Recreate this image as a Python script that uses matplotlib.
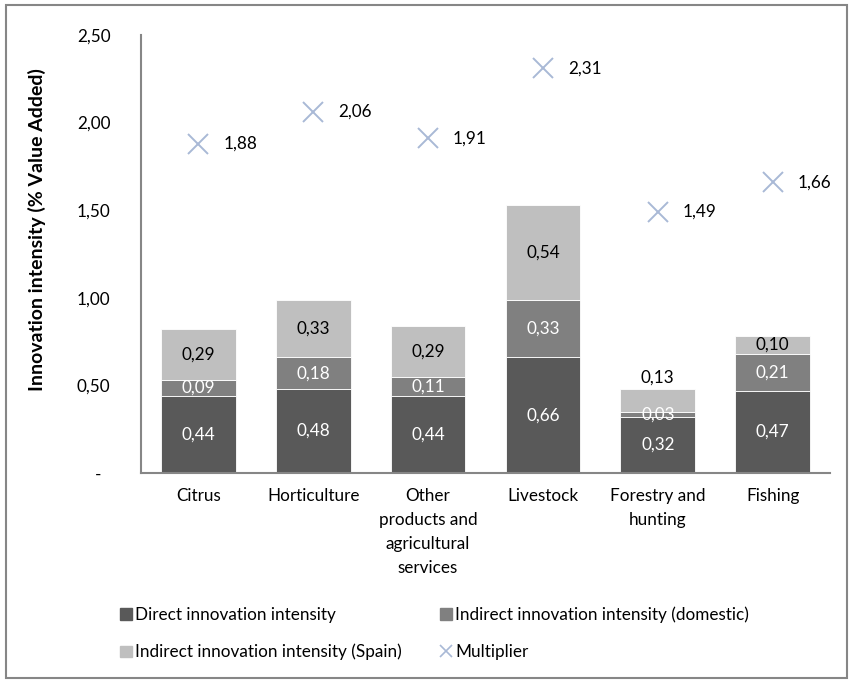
import numpy as np
import matplotlib.pyplot as plt
from matplotlib.lines import Line2D
from matplotlib.patches import Rectangle

plt.rcParams['font.family'] = ['Lato', 'DejaVu Sans']

sectors = ["Citrus", "Horticulture", "Other\nproducts and\nagricultural\nservices",
           "Livestock", "Forestry and\nhunting", "Fishing"]
direct = [0.44, 0.48, 0.44, 0.66, 0.32, 0.47]
indirect_dom = [0.09, 0.18, 0.11, 0.33, 0.03, 0.21]
indirect_spain = [0.29, 0.33, 0.29, 0.54, 0.13, 0.10]
multiplier = [1.88, 2.06, 1.91, 2.31, 1.49, 1.66]
yticks = [0, 0.5, 1.0, 1.5, 2.0, 2.5]
ytick_labels = ["-  ", "0,50", "1,00", "1,50", "2,00", "2,50"]

c_direct = "#595959"
c_dom = "#808080"
c_spain = "#bfbfbf"
c_mult = "#a9b9d6"
fs = 12.3

fig = plt.figure(figsize=(8.52, 6.81), dpi=100)
ax = fig.add_axes([141 / 852, 1 - 473 / 681, 689 / 852, 438 / 681])

x = np.arange(len(sectors))
w = 0.65
d = np.array(direct)
m = np.array(indirect_dom)
s = np.array(indirect_spain)

ax.bar(x, d, w, color=c_direct, edgecolor="white", linewidth=0.6, zorder=2)
ax.bar(x, m, w, bottom=d, color=c_dom, edgecolor="white", linewidth=0.6, zorder=2)
ax.bar(x, s, w, bottom=d + m, color=c_spain, edgecolor="white", linewidth=0.6, zorder=2)
ax.plot(x, multiplier, linestyle="none", marker="x", markersize=14,
        markeredgewidth=1.4, color=c_mult, zorder=3)

fmt = lambda v: f"{v:.2f}".replace(".", ",")
for i in range(len(sectors)):
    ax.text(x[i], d[i] / 2, fmt(d[i]), ha="center", va="center",
            color="white", fontsize=fs, zorder=4)
    ax.text(x[i], d[i] + m[i] / 2, fmt(m[i]), ha="center", va="center",
            color="white", fontsize=fs, zorder=4)
    top = d[i] + m[i] + s[i]
    if s[i] < 0.15 and m[i] < 0.1:
        # thin segment: put the label just above the bar
        ax.annotate(fmt(s[i]), (x[i], top), xytext=(0, 8), textcoords="offset points",
                    ha="center", va="center", color="black", fontsize=fs, zorder=4)
    else:
        ax.text(x[i], d[i] + m[i] + s[i] / 2, fmt(s[i]), ha="center", va="center",
                color="black", fontsize=fs, zorder=4)
    ax.annotate(fmt(multiplier[i]), (x[i], multiplier[i]), xytext=(18, 0),
                textcoords="offset points", ha="left", va="center",
                color="black", fontsize=fs, zorder=4)

ax.set_xlim(-0.5, len(sectors) - 0.5)
ax.set_ylim(0, 2.5)
ax.set_yticks(yticks)
ax.set_yticklabels(ytick_labels)
ax.set_xticks(x)
ax.set_xticklabels(sectors, linespacing=1.6)
ax.tick_params(axis="both", length=0, labelsize=fs)
ax.tick_params(axis="y", pad=22)
ax.tick_params(axis="x", pad=11)
for side in ["top", "right"]:
    ax.spines[side].set_visible(False)
for side in ["left", "bottom"]:
    ax.spines[side].set_color("#868686")
    ax.spines[side].set_linewidth(1.5)

fig.text(37 / 852, 1 - 230 / 681, "Innovation intensity (% Value Added)",
         rotation=90, ha="center", va="center", fontsize=14, fontweight="bold")

handles = [
    Rectangle((0, 0), 1, 1, color=c_direct),
    Rectangle((0, 0), 1, 1, color=c_spain),
    Rectangle((0, 0), 1, 1, color=c_dom),
    Line2D([], [], linestyle="none", marker="x", markersize=9,
           markeredgewidth=1.2, color=c_mult),
]
labels = ["Direct innovation intensity", "Indirect innovation intensity (Spain)",
          "Indirect innovation intensity (domestic)", "Multiplier"]
fig.legend(handles, labels, ncol=2, loc="upper left",
           bbox_to_anchor=(120 / 852, 1 - 606 / 681), frameon=False,
           fontsize=fs, handlelength=0.7, handleheight=0.7, handletextpad=0.2,
           columnspacing=2.2, labelspacing=1.25, borderpad=0, borderaxespad=0)

fig.patches.append(Rectangle((6 / 852, 3 / 681), 841 / 852, 673 / 681,
                             transform=fig.transFigure, fill=False,
                             edgecolor="#868686", linewidth=1.5))

fig.savefig("out.png", dpi=100)
